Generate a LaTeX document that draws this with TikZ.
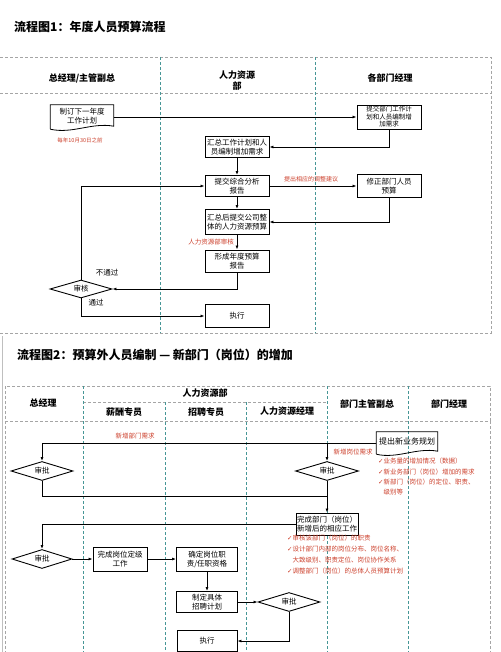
\documentclass[tikz,border=0pt]{standalone}
\usepackage{fontspec}
\setmainfont{Noto Sans CJK SC}
\newfontfamily\symfont{DejaVu Sans}
\usepackage{tikz}
\usetikzlibrary{shapes.geometric,arrows.meta,positioning}
\definecolor{framegray}{RGB}{165,165,165}
\definecolor{laneteal}{RGB}{70,150,150}
\definecolor{notered}{RGB}{205,65,45}
\newcommand{\tick}{{\symfont\char"2713}}
\tikzset{
  box/.style={draw, line width=0.9pt, fill=white, align=center, inner sep=1pt,
    font=\fontsize{7.5}{9}\selectfont, minimum width=64pt, minimum height=22pt},
  docbox/.style={align=center, inner sep=1pt, font=\fontsize{7.5}{9}\selectfont,
    minimum width=63pt, minimum height=24pt},
  check/.style={diamond, aspect=3, draw, line width=0.9pt, fill=white, inner sep=0pt,
    font=\fontsize{7.5}{9}\selectfont, minimum width=62pt, minimum height=19pt},
  note/.style={text=notered, font=\fontsize{6.5}{7.5}\selectfont, inner sep=0pt},
  lbl/.style={font=\fontsize{7.5}{9}\selectfont, inner sep=0pt},
  lane/.style={draw=laneteal, line width=0.7pt, dash pattern=on 3pt off 2pt},
  frame/.style={draw=framegray, line width=0.7pt, dash pattern=on 3pt off 2pt},
  head/.style={font=\fontsize{9}{11}\selectfont\bfseries, align=center, inner sep=0pt},
  title/.style={font=\fontsize{12}{14}\selectfont\bfseries, anchor=west, inner sep=0pt},
  flow/.style={->, line width=0.8pt},
  link/.style={line width=0.8pt},
}

\begin{document}
\begin{tikzpicture}[x=1pt, y=-1pt, >={Latex[length=4pt,width=3pt]}]
        \useasboundingbox[fill=white] (0,0) rectangle (500,652);

        \node[title] (title1) at (14,27) {流程图1：年度人员预算流程};

        \draw[frame] (0,57) -- (491,57) -- (491,333) -- (0,333);
        \draw[frame] (0,93) -- (491,93);
        \draw[lane] (160,57) -- (160,333);
        \draw[lane] (315,57) -- (315,333);
        \node[head] (gm1) at (82,78) {总经理/主管副总};
        \node[head] (hr1) at (237,81) {人力资源\\部};
        \node[head] (dm1) at (390,78) {各部门经理};

        \node[docbox, text depth=3pt] (plan) at (82,117) {制订下一年度\\工作计划};
        \draw[link] (plan.south west) -- (plan.north west) -- (plan.north east) -- ([yshift=3pt]plan.south east)
            .. controls +(-22pt,4pt) and +(22pt,-5pt) .. (plan.south west);
        \node[note, font=\fontsize{5.5}{6.5}\selectfont] (deadline) at (80,140) {每年10月30日之前};
        \node[box, font=\fontsize{6.5}{7.5}\selectfont, minimum height=24pt] (deptplan) at (389,117) {提交部门工作计\\划和人员编制增\\加需求};
        \node[box, minimum height=21pt] (collect) at (237,147) {汇总工作计划和人\\员编制增加需求};
        \node[box, minimum height=21pt] (report) at (237,186) {提交综合分析\\报告};
        \node[box, minimum height=23pt] (revise) at (389,186) {修正部门人员\\预算};
        \node[box, minimum height=25pt] (budget) at (237,222) {汇总后提交公司整\\体的人力资源预算};
        \node[box] (annual) at (237,261) {形成年度预算\\报告};
        \node[check, minimum height=18pt] (audit) at (81,289) {审核};
        \node[box, minimum height=23pt] (exec) at (237,316) {执行};

        \draw[flow] (plan) -- (deptplan);
        \draw[flow] (deptplan.south) |- (collect.east);
        \draw[flow] (collect) -- (report);
        \draw[flow] (report) -- (revise);
        \draw[flow] (revise.south) |- (budget.east);
        \draw[flow] (report) -- (budget);
        \draw[flow] (budget) -- (annual);
        \draw[flow] (annual.south) |- (audit.east);
        \draw[flow] (audit.north) |- (report.west);
        \draw[flow] (audit.south) |- (exec.west);

        \node[note, font=\fontsize{6}{7}\selectfont] (advice) at (311,179) {提出相应的调整建议};
        \node[note] (hrcheck) at (211,242) {人力资源部审核};
        \node[lbl] (fail) at (107,273) {不通过};
        \node[lbl] (pass) at (96,303) {通过};

        \node[title] (title2) at (17,355) {流程图2：预算外人员编制 — 新部门（岗位）的增加};

        \draw[draw=black!25, line width=0.6pt] (2,336) -- (2,652);
        \draw[frame] (5,386) rectangle (490,421);
        \draw[frame] (83,402) -- (327,402);
        \draw[frame] (5,421) -- (5,652);
        \draw[frame] (490,421) -- (490,652);
        \foreach \lx in {83,327,408} {
          \draw[lane] (\lx,386) -- (\lx,652);
        }
        \foreach \lx in {165,246} {
          \draw[lane] (\lx,402) -- (\lx,652);
        }
        \node[head] (gm2) at (43,403) {总经理};
        \node[head] (hr2) at (205,393) {人力资源部};
        \node[head] (pay) at (124,412) {薪酬专员};
        \node[head] (hire) at (206,412) {招聘专员};
        \node[head] (hrm) at (287,411) {人力资源经理};
        \node[head] (vp) at (367,404) {部门主管副总};
        \node[head] (dm2) at (449,404) {部门经理};

        \node[docbox, minimum width=61pt, minimum height=22pt, text depth=4pt, font=\fontsize{8}{9}\selectfont] (newplan) at (407,443) {提出新业务规划};
        \draw[link] (newplan.south west) -- (newplan.north west) -- (newplan.north east) -- ([yshift=3pt]newplan.south east)
            .. controls +(-21pt,4pt) and +(21pt,-5pt) .. (newplan.south west);
        \node[check] (d1) at (42,471) {审批};
        \node[check, minimum width=63pt] (d2) at (327,471) {审批};
        \node[box, minimum width=62pt] (finish) at (327,524) {完成部门（岗位）\\新增后的相应工作};
        \node[check, minimum width=60pt] (d3) at (42,559) {审批};
        \node[box, minimum width=54pt, minimum height=24pt] (grade) at (120,559) {完成岗位定级\\工作};
        \node[box, minimum width=61pt, minimum height=24pt] (duty) at (207,559) {确定岗位职\\责/任职资格};
        \node[box, minimum width=61pt, minimum height=21pt] (recplan) at (207,602) {制定具体\\招聘计划};
        \node[check] (d4) at (289,602) {审批};
        \node[box, minimum width=60pt, minimum height=21pt] (exec2) at (207,641) {执行};
        \coordinate (join) at (327,496);

        \draw[flow] (newplan.west) -| (d1.north);
        \draw[flow] (newplan.west) -| (d2.north);
        \draw[link] (d1.south) |- (join);
        \draw[flow] (d2.south) -- (finish.north);
        \draw[flow] (finish.west) -| (d3.north);
        \draw[flow] (d3) -- (grade);
        \draw[flow] (grade) -- (duty);
        \draw[flow] (duty) -- (recplan);
        \draw[flow] (recplan) -- (d4);
        \draw[flow] (d4.south) |- (exec2.east);

        \node[note] (deptneed) at (135,436) {新增部门需求};
        \node[note] (postneed) at (353,452) {新增岗位需求};
        \node[note, align=left, anchor=north west, font=\fontsize{6.5}{10.3}\selectfont] (bizlist) at (378,458)
            {\tick 业务量的增加情况（数据）\\\tick 新业务部门（岗位）增加的需求\\\tick 新部门（岗位）的定位、职责、\\\hphantom{\tick}级别等};
        \node[note, align=left, anchor=north west, font=\fontsize{6.5}{11}\selectfont] (dutylist) at (287,535)
            {\tick 审核该部门（岗位）的职责\\\tick 设计部门内部的岗位分布、岗位名称、\\\hphantom{\tick}大致级别、职责定位、岗位协作关系\\\tick 调整部门（岗位）的总体人员预算计划};
\end{tikzpicture}
\end{document}
